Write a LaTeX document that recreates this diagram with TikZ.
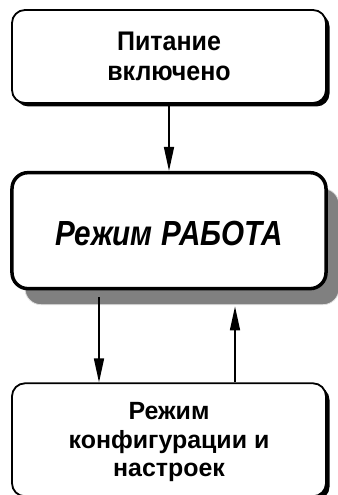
\documentclass[tikz,border=0pt]{standalone}
\usepackage{fontspec}
\setmainfont{Liberation Sans}
\newfontfamily\powerfont[FakeStretch=0.93]{Liberation Sans}
\newfontfamily\workfont[FakeStretch=0.85]{Liberation Sans}
\usetikzlibrary{arrows.meta, positioning, shadows}

\begin{document}
\begin{tikzpicture}[
    x=1bp, y=-1bp,
    box/.style={rectangle, draw, fill=white, minimum width=314bp, inner sep=0pt, align=center},
    smallbox/.style={box, rounded corners=13bp, line width=1.8bp,
        drop shadow={shadow xshift=3.5bp, shadow yshift=-3.5bp, fill=black, opacity=1}},
    mainbox/.style={box, rounded corners=16bp, line width=3.5bp,
        drop shadow={shadow xshift=13bp, shadow yshift=-16bp, fill=gray, draw=gray!25, line width=0.8bp, opacity=1}},
    arrow/.style={-{Triangle[length=24bp, width=10bp]}, line width=1.6bp}
]
\useasboundingbox (0,0) rectangle (337,495);

% Nodes
\node[smallbox, minimum height=93bp, font=\powerfont\bfseries\fontsize{27}{29.5}\selectfont] (power) at (169,56.5) {Питание\\включено};
\node[mainbox, minimum height=116bp, below=67bp of power, text height=30bp, text depth=0bp,
    font=\workfont\bfseries\itshape\fontsize{35}{40}\selectfont] (work) {Режим РАБОТА};
\node[smallbox, minimum height=113bp, below=92bp of work, text depth=0bp,
    font=\bfseries\fontsize{25}{28.7}\selectfont] (config) {Режим\\конфигурации и\\настроек};

% Arrows
\coordinate (down) at (99,0);
\coordinate (up) at (235,0);
\draw[arrow] (power) -- (work);
\draw[arrow] ([yshift=-7bp]work.south -| down) -- (config.north -| down);
\draw[arrow] (config.north -| up) -- ([yshift=-16bp]work.south -| up);

\end{tikzpicture}
\end{document}
